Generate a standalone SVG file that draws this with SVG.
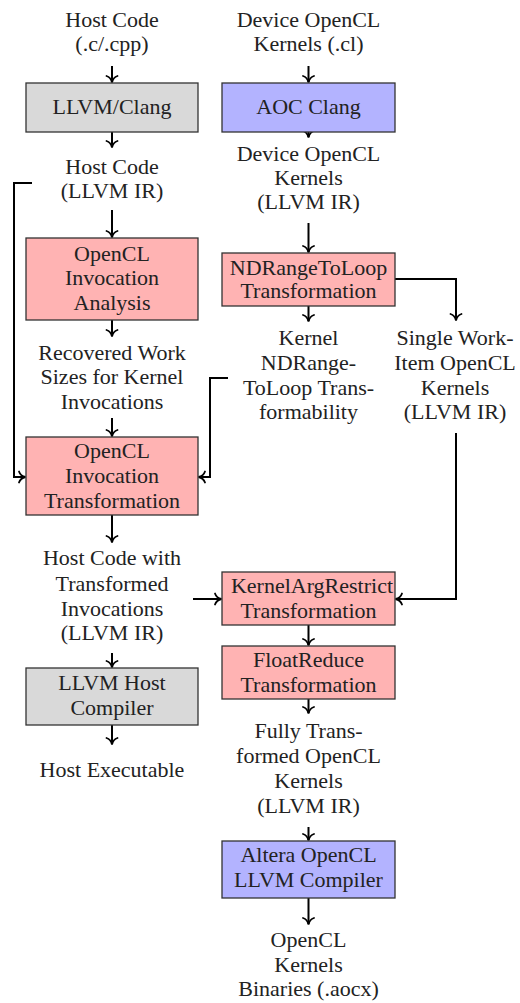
<svg xmlns="http://www.w3.org/2000/svg" width="520" height="1003" viewBox="0 0 520 1003">
<style>
text{font-family:"Liberation Serif","Times New Roman",serif;font-size:22px;fill:#222;text-anchor:middle}
.gray{fill:#d9d9d9;stroke:#333;stroke-width:1.3}
.red{fill:#ffb3b3;stroke:#333;stroke-width:1.3}
.blue{fill:#b3b3ff;stroke:#333;stroke-width:1.3}
.c{fill:none;stroke:#000;stroke-width:2;marker-end:url(#arr)}
</style>
<defs>
<marker id="arr" viewBox="-8 -7 10 14" markerWidth="10" markerHeight="14" refX="0" refY="0" markerUnits="userSpaceOnUse" orient="auto">
<path d="M-6,-5.5 C-5,-2.5 -2,-0.6 0.5,0 C-2,0.6 -5,2.5 -6,5.5" fill="none" stroke="#000" stroke-width="1.8" stroke-linecap="round"/>
</marker>
</defs>
<g id="connectors">
<path class="c" d="M112,66 V82"/>
<path class="c" d="M112,132 V147"/>
<path class="c" d="M112,210 V237"/>
<path class="c" d="M32,183 H14 V477 H25"/>
<path class="c" d="M112,320 V336"/>
<path class="c" d="M112,418 V436"/>
<path class="c" d="M228,378 H210 V477 H199"/>
<path class="c" d="M112,515 V542"/>
<path class="c" d="M193,599 H221"/>
<path class="c" d="M112,653 V667"/>
<path class="c" d="M112,725 V744"/>
<path class="c" d="M308.5,66 V82"/>
<path class="c" d="M308.5,132 V137"/>
<path class="c" d="M308.5,223 V252"/>
<path class="c" d="M308.5,306 V321"/>
<path class="c" d="M395,279 H456 V320"/>
<path class="c" d="M456,433 V599 H396"/>
<path class="c" d="M308.5,625 V645"/>
<path class="c" d="M308.5,699 V713"/>
<path class="c" d="M308.5,827 V840"/>
<path class="c" d="M308.5,898 V924"/>
</g>
<g id="host-src"><text x="112" y="27">Host Code</text><text x="112" y="51">(.c/.cpp)</text></g>
<g id="llvm-clang"><rect class="gray" x="26" y="83" width="172" height="49"/><text x="112" y="114">LLVM/Clang</text></g>
<g id="host-ir"><text x="112" y="174">Host Code</text><text x="112" y="198">(LLVM IR)</text></g>
<g id="inv-analysis"><rect class="red" x="26" y="238" width="172" height="82"/><text x="112" y="261">OpenCL</text><text x="112" y="285">Invocation</text><text x="112" y="310">Analysis</text></g>
<g id="work-sizes"><text x="112" y="360">Recovered Work</text><text x="112" y="384">Sizes for Kernel</text><text x="112" y="409">Invocations</text></g>
<g id="inv-transform"><rect class="red" x="26" y="437" width="172" height="78"/><text x="112" y="458">OpenCL</text><text x="112" y="483">Invocation</text><text x="112" y="508">Transformation</text></g>
<g id="host-transformed"><text x="112" y="565">Host Code with</text><text x="112" y="591">Transformed</text><text x="112" y="616">Invocations</text><text x="112" y="640">(LLVM IR)</text></g>
<g id="llvm-host-compiler"><rect class="gray" x="26" y="668" width="172" height="57"/><text x="112" y="690">LLVM Host</text><text x="112" y="715">Compiler</text></g>
<g id="host-exe"><text x="112" y="777">Host Executable</text></g>
<g id="dev-src"><text x="308.5" y="27">Device OpenCL</text><text x="308.5" y="51">Kernels (.cl)</text></g>
<g id="aoc-clang"><rect class="blue" x="222" y="83" width="173" height="49"/><text x="308.5" y="114">AOC Clang</text></g>
<g id="dev-ir"><text x="308.5" y="161">Device OpenCL</text><text x="308.5" y="185">Kernels</text><text x="308.5" y="209">(LLVM IR)</text></g>
<g id="ndrange"><rect class="red" x="222" y="253" width="173" height="53"/><text x="308.5" y="275">NDRangeToLoop</text><text x="308.5" y="298">Transformation</text></g>
<g id="transformability"><text x="308.5" y="345">Kernel</text><text x="308.5" y="370">NDRange-</text><text x="308.5" y="395">ToLoop Trans-</text><text x="308.5" y="419">formability</text></g>
<g id="single-work-item"><text x="455" y="345">Single Work-</text><text x="455" y="370">Item OpenCL</text><text x="455" y="395">Kernels</text><text x="455" y="419">(LLVM IR)</text></g>
<g id="kernelargrestrict"><rect class="red" x="222" y="572" width="173" height="53"/><text x="312" y="593">KernelArgRestrict</text><text x="308.5" y="618">Transformation</text></g>
<g id="floatreduce"><rect class="red" x="222" y="646" width="173" height="53"/><text x="308.5" y="667">FloatReduce</text><text x="308.5" y="692">Transformation</text></g>
<g id="fully-transformed"><text x="308.5" y="738">Fully Trans-</text><text x="308.5" y="763">formed OpenCL</text><text x="308.5" y="788">Kernels</text><text x="308.5" y="813">(LLVM IR)</text></g>
<g id="altera"><rect class="blue" x="222" y="841" width="173" height="57"/><text x="308.5" y="862">Altera OpenCL</text><text x="308.5" y="887">LLVM Compiler</text></g>
<g id="binaries"><text x="308.5" y="947">OpenCL</text><text x="308.5" y="972">Kernels</text><text x="308.5" y="996">Binaries (.aocx)</text></g>
</svg>
